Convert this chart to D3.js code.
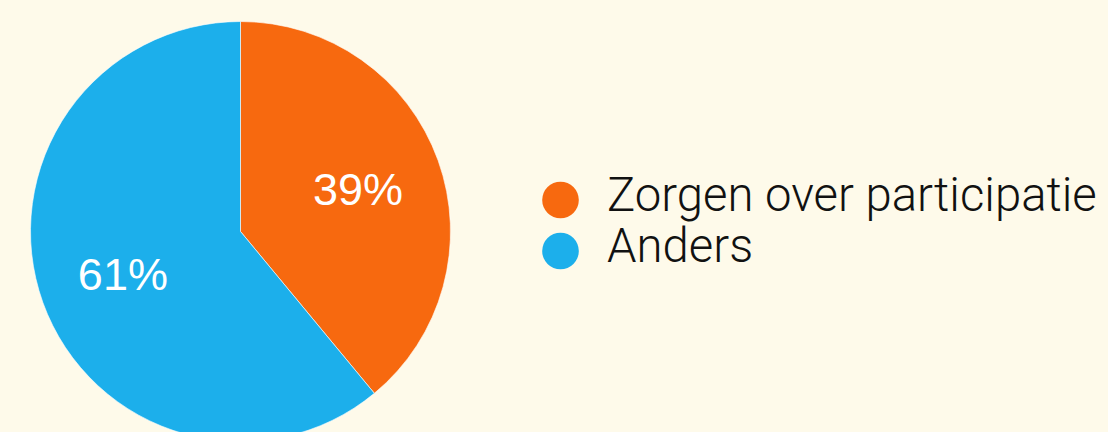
<!DOCTYPE html>
<html>
<head>
<meta charset="utf-8">
<script src="https://cdn.jsdelivr.net/npm/d3@7"></script>
<style>
  html, body { margin: 0; padding: 0; background: #FEFAEA; }
  svg { display: block; }
</style>
</head>
<body>
<svg id="chart" width="1108" height="432"></svg>
<script>
// Share of responses per category
const categories = ["Zorgen over participatie", "Anders"];
const values = [39, 61];
const labels = ["39%", "61%"];
const colors = ["#F7690F", "#1CAFEB"];

const svg = d3.select("#chart");
const W = 1108, H = 432;
const cx = 240.5, cy = 231.5, R = 210;

svg.append("rect").attr("width", W).attr("height", H).attr("fill", "#FEFAEA");

const color = d3.scaleOrdinal().domain(categories).range(colors);

const pie = d3.pie().sort(null).value(d => d.value);
const data = pie(categories.map((c, i) => ({ name: c, value: values[i], label: labels[i] })));

const arc = d3.arc().innerRadius(0).outerRadius(R);
const labelArc = d3.arc().innerRadius(125).outerRadius(125);

const g = svg.append("g").attr("transform", `translate(${cx},${cy})`);

g.selectAll("path.slice")
  .data(data)
  .join("path")
  .attr("class", "slice")
  .attr("d", arc)
  .attr("fill", d => color(d.data.name))
  .attr("stroke", "#ffffff")
  .attr("stroke-width", 0.6);

const labelSize = 45;
g.selectAll("text.pct")
  .data(data)
  .join("text")
  .attr("class", "pct")
  .attr("x", d => labelArc.centroid(d)[0])
  .attr("y", d => labelArc.centroid(d)[1] + labelSize * 0.358)
  .attr("text-anchor", "middle")
  .attr("font-family", "'Liberation Sans', Arial, sans-serif")
  .attr("font-size", labelSize)
  .attr("fill", "#ffffff")
  .text(d => d.data.label);

// Legend
const legend = svg.append("g").attr("transform", "translate(560.5,200)");
const rowStep = 51;
const rows = legend.selectAll("g.row")
  .data(categories)
  .join("g")
  .attr("class", "row")
  .attr("transform", (d, i) => `translate(0,${i * rowStep})`);

rows.append("circle")
  .attr("r", 18.3)
  .attr("fill", d => color(d));

const legendText = rows.append("text")
  .attr("font-family", "Roboto, sans-serif")
  .attr("font-size", 48)
  .attr("font-weight", 300)
  .attr("fill", "#111111")
  .text(d => d);

// condensed look: squeeze the legend type horizontally
const firstLen = legendText.nodes()[0].getComputedTextLength();
const squeeze = 490 / firstLen;
legendText.attr("transform", `translate(46.5,11) scale(${squeeze},1)`);
</script>
</body>
</html>
